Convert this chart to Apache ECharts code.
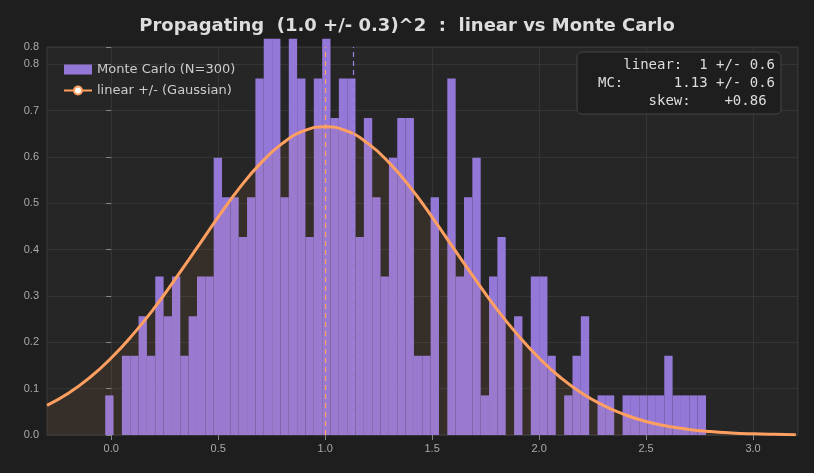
<!DOCTYPE html>
<html><head><meta charset="utf-8">
<script src="https://cdn.jsdelivr.net/npm/echarts@6/dist/echarts.min.js"></script>
<style>html,body{margin:0;background:#1e1e1e}#chart{width:814px;height:473px}</style>
</head><body><div id="chart"></div>
<script>
// histogram: 72 bins from binStart, counts
const N = 300;
const binStart = -0.028;
const binWidth = 0.039;
const counts = [1,0,2,2,3,2,4,3,4,2,3,4,4,7,6,6,5,6,9,10,10,6,10,9,5,9,10,8,
  9,9,5,8,6,4,7,8,8,2,2,6,0,9,4,6,7,1,4,5,0,3,0,4,4,2,0,1,2,3,0,1,1,0,1,1,1,1,1,2,1,1,1,1];
// linear-propagation gaussian, read every 0.1 from -0.3 to 3.2
const curveX = [];
for (let i = 0; i <= 35; i++) curveX.push(+(-0.3 + i * 0.1).toFixed(1));
const curveY = [0.064,0.090,0.124,0.166,0.216,0.273,0.337,0.403,0.470,0.533,0.587,0.629,0.656,0.665,
  0.656,0.629,0.587,0.533,0.470,0.403,0.337,0.273,0.216,0.166,0.124,0.090,0.064,
  0.044,0.029,0.019,0.012,0.0074,0.0044,0.0026,0.0015,0.0008];
const xTicks = [0, 0.5, 1, 1.5, 2, 2.5, 3];
const linearMean = 1.0, mcMean = 1.13;
const statsLines = ['   linear:  1 +/- 0.6', 'MC:      1.13 +/- 0.6', '      skew:    +0.86'];

const histData = counts.map((c, i) => [binStart + i * binWidth, binStart + (i + 1) * binWidth, c / (N * binWidth)]);

const chart = echarts.init(document.getElementById('chart'));
chart.setOption({
  backgroundColor: '#1e1e1e',
  animation: false,
  title: {
    text: 'Propagating  (1.0 +/- 0.3)^2  :  linear vs Monte Carlo',
    left: 'center', top: 12,
    textStyle: {color: '#dddddd', fontSize: 18, fontWeight: 'bold', fontFamily: 'DejaVu Sans'}
  },
  grid: {left: 47, right: 16, top: 47, bottom: 38, show: true, backgroundColor: '#262626', borderColor: '#3a3a3a'},
  legend: {
    left: 58, top: 58, orient: 'vertical', itemGap: 8, itemWidth: 28, itemHeight: 10,
    textStyle: {color: '#cccccc', fontSize: 13, fontFamily: 'DejaVu Sans'},
    data: [{name: 'Monte Carlo (N=300)', icon: 'rect'}, {name: 'linear +/- (Gaussian)'}]
  },
  xAxis: {
    type: 'value', min: -0.3, max: 3.21,
    axisLine: {show: false},
    axisTick: {customValues: xTicks, lineStyle: {color: '#888'}},
    axisLabel: {customValues: xTicks, color: '#aaaaaa', fontSize: 11, formatter: v => v.toFixed(1)},
    splitLine: {show: true, lineStyle: {color: '#353535'}}
  },
  yAxis: {
    type: 'value', min: 0, max: 0.837, interval: 0.1,
    axisLine: {show: false},
    axisTick: {show: true, lineStyle: {color: '#888'}},
    axisLabel: {color: '#aaaaaa', fontSize: 11, formatter: v => v.toFixed(1)},
    splitLine: {lineStyle: {color: '#353535'}}
  },
  graphic: [{
    type: 'rect', shape: {x: 577, y: 52, width: 204, height: 62, r: 5},
    style: {fill: '#1e1e1e', stroke: '#444', lineWidth: 1}, z: 100
  }, {
    type: 'text', right: 39, top: 56, z: 101,
    style: {text: statsLines.join('\n'), fill: '#dddddd', font: '14px "DejaVu Sans Mono"', lineHeight: 18, align: 'right'}
  }],
  series: [{
    name: 'Monte Carlo (N=300)', type: 'custom', color: '#9378d8',
    renderItem: (params, api) => {
      const p0 = api.coord([api.value(0), api.value(2)]);
      const p1 = api.coord([api.value(1), 0]);
      return {type: 'rect', shape: {x: p0[0], y: p0[1], width: p1[0] - p0[0], height: p1[1] - p0[1]},
        style: {fill: '#9378d8'}};
    },
    encode: {x: [0, 1], y: 2},
    data: histData, z: 2
  }, {
    name: 'linear +/- (Gaussian)', type: 'line', smooth: true, showSymbol: false, color: '#ff9f60',
    data: curveX.map((x, i) => [x, curveY[i]]),
    lineStyle: {width: 3, color: '#ff9f60'},
    areaStyle: {color: 'rgba(255,150,80,0.1)'},
    z: 3,
    markLine: {
      silent: true, symbol: 'none', label: {show: false},
      data: [
        {xAxis: linearMean, lineStyle: {color: '#ff9f60', type: [5, 4], width: 1.2}},
        {xAxis: mcMean, lineStyle: {color: '#9a80e8', type: [5, 4], width: 1.2}}
      ]
    }
  }]
});
</script></body></html>
